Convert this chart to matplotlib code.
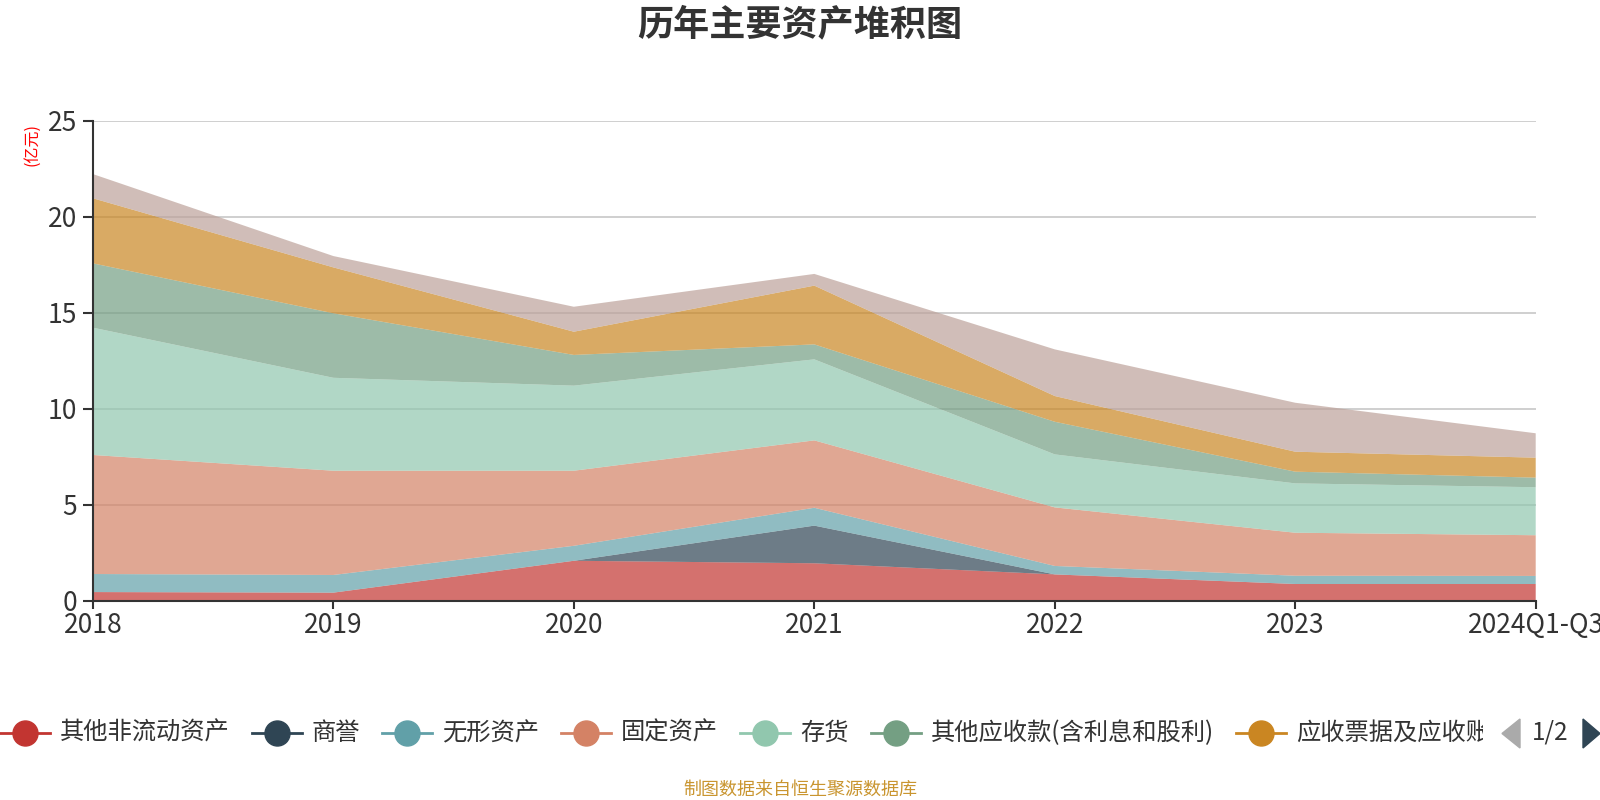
import matplotlib
matplotlib.use('Agg')
import matplotlib.pyplot as plt
from matplotlib.lines import Line2D
from matplotlib.patches import Polygon
from matplotlib.transforms import Bbox

plt.rcParams['font.family'] = ['Noto Sans CJK SC', 'DejaVu Sans']

years = ['2018', '2019', '2020', '2021', '2022', '2023', '2024Q1-Q3']
names = ['其他非流动资产', '商誉', '无形资产', '固定资产', '存货',
         '其他应收款(含利息和股利)', '应收票据及应收账款', '货币资金']

other_noncurrent = [0.45, 0.42, 2.08, 1.95, 1.37, 0.87, 0.87]
goodwill = [0.0, 0.0, 0.0, 1.96, 0.0, 0.0, 0.0]
intangible = [0.94, 0.92, 0.78, 0.93, 0.44, 0.43, 0.42]
fixed_assets = [6.20, 5.43, 3.91, 3.51, 3.05, 2.24, 2.12]
inventory = [6.63, 4.84, 4.43, 4.22, 2.76, 2.57, 2.50]
other_recv = [3.35, 3.36, 1.60, 0.78, 1.70, 0.61, 0.50]
notes_recv = [3.39, 2.39, 1.21, 3.06, 1.34, 1.04, 1.04]
cash = [1.26, 0.59, 1.30, 0.61, 2.43, 2.55, 1.27]

colors = ['#c23531', '#2f4554', '#61a0a8', '#d48265', '#91c7ae',
          '#749f83', '#ca8622', '#bda29a']

series = [other_noncurrent, goodwill, intangible, fixed_assets,
          inventory, other_recv, notes_recv, cash]

W, H = 1600, 800
fig = plt.figure(figsize=(16, 8), dpi=100)
ax = fig.add_axes([92.9 / W, 1 - 600.7 / H, (1535.7 - 92.9) / W, 480 / H])

x = list(range(len(years)))
ax.stackplot(x, *series, colors=colors, alpha=0.7, linewidth=0)

ax.set_xlim(0, len(years) - 1)
ax.set_ylim(0, 25)
ax.set_yticks([0, 5, 10, 15, 20, 25])
ax.set_xticks(x)
ax.set_xticklabels(years)
ax.yaxis.grid(True, color='#cccccc', linewidth=1.3)
ax.set_axisbelow(True)
for s in ['top', 'right']:
    ax.spines[s].set_visible(False)
for s in ['left', 'bottom']:
    ax.spines[s].set_color('#333333')
    ax.spines[s].set_linewidth(1.5)
    ax.spines[s].set_zorder(5)
ax.tick_params(axis='y', length=7.5, width=1.5, color='#333333',
               labelsize=19, labelcolor='#333333', pad=4)
ax.tick_params(axis='x', length=6, width=1.5, color='#333333',
               labelsize=19, labelcolor='#333333', pad=2)
for lab in ax.get_xticklabels():
    lab.set_clip_on(False)

fig.text(800 / W, 1 - 25 / H, '历年主要资产堆积图', ha='center', va='center',
         fontsize=26, fontweight='bold', color='#333333')
fig.text(32 / W, 1 - 144 / H, '(亿元)', ha='center', va='center',
         rotation=90, fontsize=11.5, color='red')
fig.text(800 / W, 1 - 790 / H, '制图数据来自恒生聚源数据库', ha='center',
         va='center', fontsize=13, color='#c9952f')

# legend (first page of a scrolling legend)
renderer = fig.canvas.get_renderer()
ly = 1 - 733 / H
xpos = 0
clip = Bbox.from_extents(0, 0, 1483, H)
for name, c in zip(names[:7], colors[:7]):
    fig.add_artist(Line2D([xpos / W, (xpos + 50) / W], [ly, ly], color=c,
                          linewidth=2, transform=fig.transFigure))
    fig.add_artist(Line2D([(xpos + 25) / W], [ly], marker='o', markersize=18,
                          color=c, linestyle='none', transform=fig.transFigure))
    t = fig.text((xpos + 60) / W, ly, name, ha='left', va='center',
                 fontsize=17.5, color='#333333')
    t.set_clip_box(clip)
    t.set_clip_on(True)
    w = t.get_window_extent(renderer).width
    xpos = xpos + 60 + w + 22

fig.add_artist(Polygon([[1520 / W, 1 - 719 / H], [1520 / W, 1 - 748 / H],
                        [1502 / W, 1 - 733.5 / H]], closed=True,
                       color='#aaaaaa', transform=fig.transFigure))
fig.text(1550 / W, ly, '1/2', ha='center', va='center', fontsize=17.5,
         color='#333333')
fig.add_artist(Polygon([[1583 / W, 1 - 719 / H], [1583 / W, 1 - 748 / H],
                        [1600 / W, 1 - 733.5 / H]], closed=True,
                       color='#2f4554', transform=fig.transFigure))

fig.savefig('out.png', dpi=100)
